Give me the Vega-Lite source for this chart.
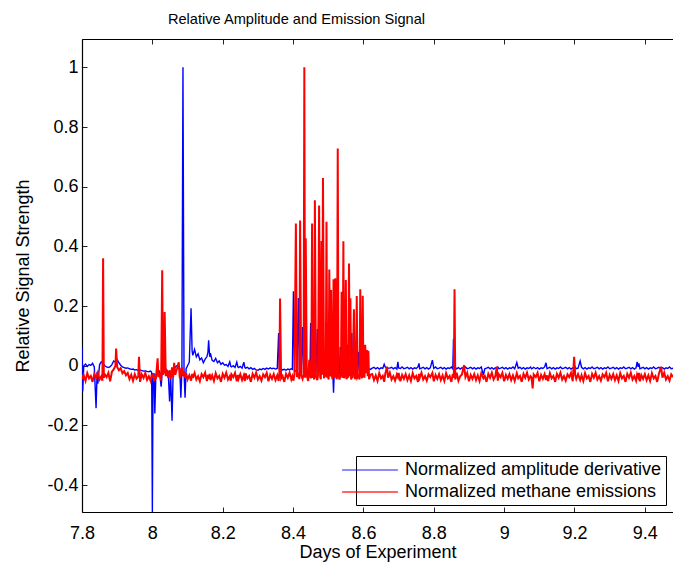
{
"$schema": "https://vega.github.io/schema/vega-lite/v6.json",
"width": 591, "height": 473,
"autosize": {"type": "none"},
"padding": {"left": 82, "top": 39, "right": 0, "bottom": 51},
"background": "white",
"config": {
 "font": "Liberation Sans",
 "view": {"stroke": null},
 "axis": {"grid": false, "domain": true, "ticks": true, "domainColor": "#000000", "domainWidth": 1.2, "domainOpacity": 1, "tickColor": "#222222", "tickWidth": 1, "tickOpacity": 1, "labelColor": "#000", "labelFontSize": 18, "titleFontSize": 18, "titleFontWeight": "normal", "titleColor": "#000", "labelFont": "Liberation Sans", "titleFont": "Liberation Sans", "labelFlush": false, "labelOverlap": false}
},
"title": {"text": "Relative Amplitude and Emission Signal", "anchor": "middle", "frame": "group", "dx": -81, "offset": 12, "fontSize": 14.6, "font": "Liberation Sans", "fontWeight": "normal", "color": "#000"},
"data": {"values": [
{"t":7.800,"a":0.060,"m":-0.030},{"t":7.802,"a":-0.085,"m":-0.045},{"t":7.805,"a":0.000,"m":-0.032},{"t":7.810,"a":0.006,"m":-0.051},{"t":7.815,"a":-0.002,"m":-0.025},{"t":7.820,"a":0.004,"m":-0.042},{"t":7.825,"a":0.001,"m":-0.034},{"t":7.830,"a":0.008,"m":-0.054},{"t":7.835,"a":-0.004,"m":-0.027},{"t":7.840,"a":-0.142,"m":-0.040},{"t":7.843,"a":-0.020,"m":-0.030},{"t":7.845,"a":-0.060,"m":-0.023},{"t":7.850,"a":0.004,"m":-0.046},{"t":7.855,"a":0.013,"m":-0.035},{"t":7.858,"a":0.010,"m":-0.050},{"t":7.860,"a":0.008,"m":0.360},{"t":7.862,"a":0.004,"m":-0.040},{"t":7.865,"a":0.000,"m":-0.029},{"t":7.870,"a":-0.004,"m":-0.038},{"t":7.875,"a":-0.006,"m":-0.024},{"t":7.880,"a":-0.003,"m":-0.052},{"t":7.885,"a":0.004,"m":-0.020},{"t":7.890,"a":0.016,"m":-0.012},{"t":7.895,"a":0.012,"m":0.000},{"t":7.897,"a":0.018,"m":0.058},{"t":7.900,"a":0.021,"m":-0.004},{"t":7.905,"a":0.010,"m":-0.015},{"t":7.910,"a":0.002,"m":-0.008},{"t":7.915,"a":-0.004,"m":-0.025},{"t":7.920,"a":-0.006,"m":-0.018},{"t":7.925,"a":-0.008,"m":-0.032},{"t":7.930,"a":-0.007,"m":-0.024},{"t":7.935,"a":-0.010,"m":-0.045},{"t":7.940,"a":-0.012,"m":-0.030},{"t":7.945,"a":-0.011,"m":-0.050},{"t":7.950,"a":-0.014,"m":-0.028},{"t":7.955,"a":-0.013,"m":-0.043},{"t":7.960,"a":-0.015,"m":-0.036},{"t":7.962,"a":-0.016,"m":0.030},{"t":7.965,"a":-0.014,"m":-0.054},{"t":7.970,"a":-0.016,"m":-0.029},{"t":7.975,"a":-0.018,"m":-0.041},{"t":7.980,"a":-0.017,"m":-0.024},{"t":7.985,"a":-0.019,"m":-0.047},{"t":7.990,"a":-0.020,"m":-0.035},{"t":7.995,"a":-0.018,"m":-0.051},{"t":7.998,"a":-0.022,"m":-0.030},{"t":8.000,"a":-0.490,"m":-0.040},{"t":8.002,"a":-0.030,"m":-0.025},{"t":8.005,"a":-0.028,"m":-0.052},{"t":8.007,"a":-0.160,"m":-0.031},{"t":8.010,"a":-0.030,"m":-0.044},{"t":8.015,"a":-0.022,"m":0.025},{"t":8.017,"a":-0.020,"m":-0.038},{"t":8.020,"a":-0.018,"m":-0.024},{"t":8.025,"a":-0.070,"m":-0.049},{"t":8.028,"a":-0.020,"m":0.320},{"t":8.030,"a":-0.015,"m":-0.030},{"t":8.033,"a":-0.012,"m":-0.020},{"t":8.035,"a":-0.018,"m":0.180},{"t":8.038,"a":-0.010,"m":-0.035},{"t":8.040,"a":-0.014,"m":-0.012},{"t":8.045,"a":-0.020,"m":-0.040},{"t":8.049,"a":-0.120,"m":-0.015},{"t":8.052,"a":-0.030,"m":-0.045},{"t":8.056,"a":-0.184,"m":-0.005},{"t":8.059,"a":-0.025,"m":-0.038},{"t":8.062,"a":-0.012,"m":0.010},{"t":8.065,"a":-0.004,"m":-0.030},{"t":8.070,"a":0.000,"m":-0.010},{"t":8.075,"a":-0.008,"m":0.012},{"t":8.078,"a":-0.010,"m":-0.042},{"t":8.081,"a":-0.107,"m":-0.020},{"t":8.084,"a":-0.015,"m":-0.005},{"t":8.087,"a":1.000,"m":-0.035},{"t":8.090,"a":-0.020,"m":-0.018},{"t":8.093,"a":-0.107,"m":-0.040},{"t":8.096,"a":-0.010,"m":-0.025},{"t":8.100,"a":0.000,"m":-0.046},{"t":8.105,"a":0.012,"m":-0.032},{"t":8.110,"a":0.193,"m":-0.050},{"t":8.113,"a":0.050,"m":-0.027},{"t":8.115,"a":0.035,"m":-0.041},{"t":8.120,"a":0.055,"m":-0.024},{"t":8.125,"a":0.030,"m":-0.046},{"t":8.130,"a":0.040,"m":-0.035},{"t":8.135,"a":0.020,"m":-0.052},{"t":8.140,"a":0.026,"m":-0.028},{"t":8.145,"a":0.010,"m":-0.038},{"t":8.150,"a":0.022,"m":-0.023},{"t":8.155,"a":0.030,"m":-0.051},{"t":8.158,"a":0.045,"m":-0.031},{"t":8.160,"a":0.085,"m":-0.044},{"t":8.163,"a":0.030,"m":-0.027},{"t":8.165,"a":0.042,"m":-0.048},{"t":8.170,"a":0.018,"m":-0.032},{"t":8.175,"a":0.014,"m":-0.051},{"t":8.180,"a":0.025,"m":-0.025},{"t":8.185,"a":0.010,"m":-0.042},{"t":8.190,"a":0.016,"m":-0.034},{"t":8.195,"a":0.005,"m":-0.054},{"t":8.200,"a":0.010,"m":-0.027},{"t":8.205,"a":0.002,"m":-0.040},{"t":8.210,"a":0.004,"m":-0.023},{"t":8.215,"a":-0.002,"m":-0.046},{"t":8.220,"a":0.013,"m":-0.035},{"t":8.223,"a":-0.002,"m":-0.050},{"t":8.225,"a":-0.004,"m":-0.029},{"t":8.230,"a":0.000,"m":-0.038},{"t":8.235,"a":-0.006,"m":-0.024},{"t":8.240,"a":0.012,"m":-0.052},{"t":8.243,"a":-0.004,"m":-0.031},{"t":8.245,"a":-0.006,"m":-0.044},{"t":8.250,"a":-0.002,"m":-0.028},{"t":8.255,"a":-0.008,"m":-0.048},{"t":8.260,"a":0.012,"m":-0.032},{"t":8.263,"a":-0.006,"m":-0.051},{"t":8.265,"a":-0.008,"m":-0.025},{"t":8.270,"a":-0.005,"m":-0.042},{"t":8.275,"a":-0.010,"m":-0.034},{"t":8.280,"a":-0.006,"m":-0.054},{"t":8.285,"a":-0.012,"m":-0.027},{"t":8.290,"a":-0.009,"m":-0.040},{"t":8.295,"a":-0.014,"m":-0.023},{"t":8.300,"a":-0.015,"m":-0.046},{"t":8.305,"a":-0.011,"m":-0.035},{"t":8.310,"a":-0.013,"m":-0.050},{"t":8.315,"a":-0.009,"m":-0.029},{"t":8.320,"a":-0.012,"m":-0.038},{"t":8.325,"a":-0.008,"m":-0.024},{"t":8.330,"a":-0.011,"m":-0.052},{"t":8.335,"a":-0.007,"m":-0.031},{"t":8.340,"a":-0.010,"m":-0.044},{"t":8.345,"a":-0.008,"m":-0.028},{"t":8.350,"a":-0.011,"m":-0.048},{"t":8.355,"a":-0.009,"m":-0.032},{"t":8.359,"a":0.110,"m":-0.051},{"t":8.361,"a":-0.010,"m":-0.025},{"t":8.363,"a":-0.012,"m":0.225},{"t":8.366,"a":-0.011,"m":-0.042},{"t":8.370,"a":-0.014,"m":-0.034},{"t":8.375,"a":-0.012,"m":-0.054},{"t":8.380,"a":-0.015,"m":-0.027},{"t":8.385,"a":-0.011,"m":-0.040},{"t":8.390,"a":-0.013,"m":-0.023},{"t":8.395,"a":-0.010,"m":-0.046},{"t":8.398,"a":-0.012,"m":-0.035},
{"t":8.401,"a":0.250,"m":-0.050},{"t":8.404,"a":-0.015,"m":-0.029},{"t":8.408,"a":-0.018,"m":0.477},{"t":8.411,"a":-0.020,"m":-0.038},{"t":8.415,"a":0.227,"m":-0.024},{"t":8.418,"a":-0.022,"m":-0.045},{"t":8.420,"a":-0.020,"m":0.487},{"t":8.423,"a":-0.025,"m":-0.031},{"t":8.427,"a":0.130,"m":-0.044},{"t":8.430,"a":-0.025,"m":-0.028},{"t":8.432,"a":-0.020,"m":1.000},{"t":8.434,"a":-0.022,"m":-0.040},{"t":8.436,"a":-0.024,"m":0.427},{"t":8.439,"a":-0.020,"m":-0.032},{"t":8.443,"a":-0.018,"m":-0.051},{"t":8.446,"a":-0.022,"m":0.020},{"t":8.448,"a":-0.020,"m":-0.025},{"t":8.450,"a":0.143,"m":-0.042},{"t":8.452,"a":-0.025,"m":-0.034},{"t":8.454,"a":-0.022,"m":0.477},{"t":8.456,"a":-0.020,"m":-0.040},{"t":8.458,"a":0.198,"m":-0.030},{"t":8.460,"a":-0.025,"m":-0.046},{"t":8.462,"a":-0.022,"m":0.555},{"t":8.465,"a":-0.020,"m":-0.035},{"t":8.469,"a":0.123,"m":-0.048},{"t":8.471,"a":-0.022,"m":-0.030},{"t":8.474,"a":-0.018,"m":0.537},{"t":8.477,"a":0.134,"m":-0.038},{"t":8.479,"a":-0.025,"m":-0.045},{"t":8.481,"a":-0.022,"m":0.418},{"t":8.483,"a":-0.020,"m":-0.030},{"t":8.485,"a":-0.022,"m":0.629},{"t":8.488,"a":-0.025,"m":-0.042},{"t":8.491,"a":0.030,"m":-0.028},{"t":8.493,"a":-0.020,"m":-0.036},{"t":8.495,"a":-0.018,"m":0.483},{"t":8.497,"a":-0.022,"m":-0.040},{"t":8.499,"a":0.064,"m":-0.032},{"t":8.501,"a":-0.020,"m":-0.046},{"t":8.503,"a":-0.018,"m":0.323},{"t":8.505,"a":-0.022,"m":-0.036},{"t":8.508,"a":-0.020,"m":0.254},{"t":8.510,"a":-0.025,"m":-0.030},{"t":8.512,"a":0.075,"m":-0.045},{"t":8.513,"a":-0.020,"m":-0.035},{"t":8.515,"a":-0.090,"m":0.290},{"t":8.517,"a":-0.020,"m":-0.040},{"t":8.520,"a":-0.018,"m":0.293},{"t":8.522,"a":-0.022,"m":-0.032},{"t":8.524,"a":0.097,"m":-0.045},{"t":8.525,"a":-0.020,"m":-0.036},{"t":8.527,"a":-0.022,"m":0.728},{"t":8.529,"a":-0.020,"m":-0.030},{"t":8.532,"a":-0.025,"m":-0.046},{"t":8.534,"a":0.063,"m":-0.035},{"t":8.536,"a":-0.022,"m":-0.028},{"t":8.538,"a":-0.020,"m":0.248},{"t":8.540,"a":0.110,"m":-0.040},{"t":8.541,"a":-0.020,"m":-0.035},{"t":8.543,"a":-0.022,"m":0.417},{"t":8.545,"a":-0.020,"m":-0.042},{"t":8.548,"a":-0.018,"m":-0.030},{"t":8.550,"a":-0.020,"m":0.287},{"t":8.552,"a":-0.022,"m":-0.045},{"t":8.555,"a":0.070,"m":-0.032},{"t":8.557,"a":-0.020,"m":-0.040},{"t":8.559,"a":-0.022,"m":0.343},{"t":8.561,"a":-0.020,"m":-0.035},{"t":8.563,"a":-0.018,"m":0.226},{"t":8.565,"a":-0.022,"m":-0.046},{"t":8.567,"a":0.110,"m":-0.030},{"t":8.569,"a":-0.020,"m":-0.042},{"t":8.573,"a":-0.018,"m":0.189},{"t":8.575,"a":-0.020,"m":-0.035},{"t":8.577,"a":0.083,"m":-0.045},{"t":8.579,"a":-0.022,"m":-0.030},{"t":8.581,"a":-0.020,"m":0.234},{"t":8.583,"a":-0.022,"m":-0.040},{"t":8.587,"a":0.047,"m":-0.032},{"t":8.589,"a":-0.018,"m":-0.046},{"t":8.591,"a":-0.020,"m":0.256},{"t":8.593,"a":-0.015,"m":-0.035},{"t":8.594,"a":0.053,"m":-0.030},{"t":8.596,"a":-0.015,"m":-0.042},{"t":8.598,"a":-0.012,"m":0.235},{"t":8.600,"a":-0.014,"m":-0.030},{"t":8.603,"a":-0.012,"m":-0.040},{"t":8.605,"a":-0.012,"m":0.070},{"t":8.607,"a":-0.013,"m":-0.025},{"t":8.610,"a":-0.012,"m":0.053},{"t":8.612,"a":-0.011,"m":-0.035},{"t":8.614,"a":-0.012,"m":0.050},{"t":8.616,"a":-0.010,"m":-0.045},{"t":8.620,"a":-0.012,"m":-0.030},
{"t":8.625,"a":-0.008,"m":-0.028},{"t":8.630,"a":-0.005,"m":-0.048},{"t":8.635,"a":-0.010,"m":-0.032},{"t":8.640,"a":-0.006,"m":-0.051},{"t":8.645,"a":-0.011,"m":-0.025},{"t":8.650,"a":-0.007,"m":-0.042},{"t":8.655,"a":-0.009,"m":-0.034},{"t":8.659,"a":0.005,"m":-0.054},{"t":8.662,"a":-0.004,"m":-0.027},{"t":8.667,"a":-0.010,"m":-0.003},{"t":8.670,"a":-0.008,"m":-0.040},{"t":8.675,"a":-0.008,"m":-0.023},{"t":8.680,"a":-0.005,"m":-0.046},{"t":8.685,"a":-0.010,"m":-0.035},{"t":8.690,"a":-0.006,"m":-0.050},{"t":8.695,"a":-0.011,"m":-0.029},{"t":8.698,"a":0.013,"m":-0.038},{"t":8.700,"a":-0.007,"m":-0.024},{"t":8.705,"a":-0.009,"m":-0.052},{"t":8.710,"a":-0.004,"m":-0.031},{"t":8.715,"a":-0.010,"m":-0.044},{"t":8.720,"a":-0.008,"m":-0.028},{"t":8.725,"a":-0.005,"m":-0.048},{"t":8.730,"a":-0.010,"m":-0.032},{"t":8.735,"a":-0.006,"m":-0.051},{"t":8.740,"a":-0.011,"m":-0.025},{"t":8.745,"a":-0.007,"m":-0.042},{"t":8.750,"a":-0.009,"m":-0.034},{"t":8.755,"a":-0.004,"m":-0.054},{"t":8.758,"a":0.008,"m":-0.027},{"t":8.760,"a":-0.010,"m":-0.040},{"t":8.765,"a":-0.008,"m":-0.023},{"t":8.770,"a":-0.005,"m":-0.046},{"t":8.775,"a":-0.010,"m":-0.035},{"t":8.780,"a":-0.006,"m":-0.050},{"t":8.785,"a":-0.011,"m":-0.029},{"t":8.790,"a":-0.007,"m":-0.038},{"t":8.796,"a":0.019,"m":-0.024},{"t":8.800,"a":-0.009,"m":-0.052},{"t":8.805,"a":-0.004,"m":-0.031},{"t":8.810,"a":-0.010,"m":-0.044},{"t":8.815,"a":-0.008,"m":-0.028},{"t":8.820,"a":-0.005,"m":-0.048},{"t":8.825,"a":-0.010,"m":-0.032},{"t":8.830,"a":-0.006,"m":-0.051},{"t":8.835,"a":-0.011,"m":-0.025},{"t":8.840,"a":-0.007,"m":-0.042},{"t":8.845,"a":-0.009,"m":-0.034},{"t":8.850,"a":-0.004,"m":-0.054},{"t":8.854,"a":-0.010,"m":-0.027},{"t":8.856,"a":0.090,"m":-0.040},{"t":8.857,"a":-0.008,"m":-0.030},{"t":8.859,"a":-0.008,"m":0.256},{"t":8.861,"a":-0.005,"m":-0.046},{"t":8.865,"a":-0.010,"m":-0.023},{"t":8.870,"a":-0.006,"m":-0.050},{"t":8.875,"a":-0.011,"m":-0.035},{"t":8.880,"a":-0.007,"m":-0.029},{"t":8.886,"a":-0.009,"m":0.002},{"t":8.890,"a":-0.004,"m":-0.038},{"t":8.895,"a":-0.010,"m":-0.024},{"t":8.900,"a":-0.008,"m":-0.052},{"t":8.905,"a":-0.005,"m":-0.031},{"t":8.910,"a":-0.010,"m":-0.044},{"t":8.915,"a":-0.006,"m":-0.028},{"t":8.920,"a":-0.011,"m":-0.048},{"t":8.925,"a":-0.007,"m":-0.032},{"t":8.930,"a":-0.009,"m":-0.051},{"t":8.935,"a":-0.004,"m":-0.025},{"t":8.941,"a":-0.031,"m":-0.042},{"t":8.945,"a":-0.010,"m":-0.034},{"t":8.950,"a":-0.008,"m":-0.054},{"t":8.955,"a":-0.005,"m":-0.027},{"t":8.960,"a":-0.010,"m":-0.040},{"t":8.965,"a":-0.006,"m":-0.023},{"t":8.970,"a":-0.011,"m":-0.046},{"t":8.975,"a":-0.007,"m":-0.035},{"t":8.979,"a":-0.009,"m":-0.003},{"t":8.982,"a":-0.004,"m":-0.050},{"t":8.985,"a":-0.010,"m":-0.029},{"t":8.990,"a":-0.008,"m":-0.038},{"t":8.995,"a":-0.005,"m":-0.024},{"t":9.000,"a":-0.010,"m":-0.052},{"t":9.005,"a":-0.006,"m":-0.031},{"t":9.010,"a":-0.011,"m":-0.044},{"t":9.015,"a":-0.007,"m":-0.028},{"t":9.020,"a":-0.009,"m":-0.048},{"t":9.025,"a":-0.004,"m":-0.032},{"t":9.030,"a":-0.010,"m":-0.051},{"t":9.036,"a":0.011,"m":-0.025},{"t":9.040,"a":-0.008,"m":-0.042},{"t":9.045,"a":-0.005,"m":-0.034},{"t":9.050,"a":-0.010,"m":-0.054},{"t":9.055,"a":-0.006,"m":-0.027},{"t":9.060,"a":-0.011,"m":-0.040},{"t":9.065,"a":-0.007,"m":-0.023},{"t":9.070,"a":-0.009,"m":-0.046},{"t":9.075,"a":-0.004,"m":-0.035},{"t":9.078,"a":-0.010,"m":-0.040},{"t":9.081,"a":-0.008,"m":-0.076},{"t":9.084,"a":-0.005,"m":-0.029},{"t":9.090,"a":-0.010,"m":-0.038},{"t":9.095,"a":-0.006,"m":-0.024},{"t":9.100,"a":-0.011,"m":-0.052},{"t":9.105,"a":-0.007,"m":-0.031},{"t":9.110,"a":-0.009,"m":-0.044},{"t":9.115,"a":-0.004,"m":-0.028},{"t":9.119,"a":0.010,"m":-0.048},{"t":9.122,"a":-0.010,"m":-0.032},{"t":9.125,"a":-0.008,"m":-0.051},{"t":9.130,"a":-0.005,"m":-0.025},{"t":9.135,"a":-0.010,"m":-0.042},{"t":9.140,"a":-0.006,"m":-0.034},{"t":9.145,"a":-0.011,"m":-0.054},{"t":9.150,"a":-0.007,"m":-0.027},{"t":9.155,"a":-0.009,"m":-0.040},{"t":9.160,"a":-0.004,"m":-0.023},{"t":9.165,"a":-0.010,"m":-0.046},{"t":9.170,"a":-0.008,"m":-0.035},{"t":9.175,"a":-0.005,"m":-0.050},{"t":9.180,"a":-0.010,"m":-0.029},{"t":9.185,"a":-0.006,"m":-0.038},{"t":9.190,"a":-0.011,"m":-0.024},{"t":9.195,"a":-0.007,"m":-0.052},{"t":9.199,"a":-0.009,"m":0.030},{"t":9.202,"a":-0.004,"m":-0.031},{"t":9.205,"a":-0.010,"m":-0.044},{"t":9.210,"a":-0.008,"m":-0.028},{"t":9.216,"a":0.016,"m":-0.048},{"t":9.220,"a":-0.005,"m":-0.032},{"t":9.225,"a":-0.010,"m":-0.051},{"t":9.230,"a":-0.006,"m":-0.025},{"t":9.235,"a":-0.011,"m":-0.042},{"t":9.240,"a":-0.007,"m":-0.034},{"t":9.245,"a":-0.009,"m":-0.054},{"t":9.250,"a":-0.004,"m":-0.027},{"t":9.255,"a":-0.010,"m":-0.040},{"t":9.260,"a":-0.008,"m":-0.023},{"t":9.265,"a":-0.005,"m":-0.046},{"t":9.270,"a":-0.010,"m":-0.035},{"t":9.275,"a":-0.006,"m":-0.050},{"t":9.280,"a":-0.011,"m":-0.029},{"t":9.285,"a":-0.007,"m":-0.038},{"t":9.290,"a":-0.009,"m":-0.024},{"t":9.295,"a":-0.004,"m":-0.052},{"t":9.300,"a":-0.010,"m":-0.031},{"t":9.305,"a":-0.008,"m":-0.044},{"t":9.310,"a":-0.005,"m":-0.028},{"t":9.315,"a":-0.010,"m":-0.048},{"t":9.320,"a":-0.006,"m":-0.032},{"t":9.325,"a":-0.011,"m":-0.051},{"t":9.330,"a":-0.007,"m":-0.025},{"t":9.335,"a":-0.009,"m":-0.042},{"t":9.340,"a":-0.004,"m":-0.034},{"t":9.345,"a":-0.010,"m":-0.054},{"t":9.350,"a":-0.008,"m":-0.027},{"t":9.355,"a":-0.005,"m":-0.040},{"t":9.360,"a":-0.010,"m":-0.023},{"t":9.365,"a":-0.006,"m":-0.046},{"t":9.370,"a":-0.011,"m":-0.035},{"t":9.375,"a":-0.007,"m":-0.050},{"t":9.378,"a":0.013,"m":-0.029},{"t":9.381,"a":-0.004,"m":-0.038},{"t":9.383,"a":0.008,"m":-0.024},{"t":9.386,"a":-0.010,"m":-0.052},{"t":9.390,"a":-0.008,"m":-0.031},{"t":9.395,"a":-0.005,"m":-0.044},{"t":9.400,"a":-0.010,"m":-0.028},{"t":9.405,"a":-0.006,"m":-0.048},{"t":9.410,"a":-0.011,"m":-0.032},{"t":9.415,"a":-0.007,"m":-0.051},{"t":9.420,"a":-0.009,"m":-0.025},{"t":9.425,"a":-0.004,"m":-0.042},{"t":9.430,"a":-0.010,"m":-0.034},{"t":9.435,"a":-0.008,"m":-0.054},{"t":9.440,"a":-0.005,"m":-0.027},{"t":9.446,"a":-0.010,"m":-0.003},{"t":9.450,"a":-0.006,"m":-0.040},{"t":9.455,"a":-0.011,"m":-0.023},{"t":9.460,"a":-0.007,"m":-0.046},{"t":9.465,"a":-0.009,"m":-0.035},{"t":9.470,"a":-0.004,"m":-0.050},{"t":9.475,"a":-0.010,"m":-0.029},{"t":9.480,"a":-0.008,"m":-0.038}
]},
"transform": [{"fold": ["a", "m"], "as": ["key", "value"]}],
"layer": [
 {
  "mark": {"type": "line", "clip": true},
  "encoding": {
   "x": {"field": "t", "type": "quantitative", "scale": {"domain": [7.8, 9.48], "nice": false, "zero": false},
    "axis": {"orient": "bottom", "domain": true, "ticks": true, "values": [7.8, 8, 8.2, 8.4, 8.6, 8.8, 9, 9.2, 9.4], "labelExpr": "toString(datum.value)", "tickSize": -5, "labelPadding": 17, "title": "Days of Experiment", "titlePadding": 1}},
   "y": {"field": "value", "type": "quantitative", "scale": {"domain": [-0.49, 1.095], "nice": false, "zero": false},
    "axis": {"domain": true, "ticks": true, "values": [-0.4, -0.2, 0, 0.2, 0.4, 0.6, 0.8, 1], "labelExpr": "toString(datum.value)", "tickSize": -5, "labelPadding": 9, "title": "Relative Signal Strength", "titlePadding": 14}},
   "strokeWidth": {"field": "key", "type": "nominal", "scale": {"domain": ["a", "m"], "range": [1.4, 2]}, "legend": null},
   "color": {"field": "key", "type": "nominal", "scale": {"domain": ["a", "m"], "range": ["#0000ff", "#ff0000"]},
    "legend": {"orient": "none", "legendX": 274, "legendY": 417, "title": null, "strokeColor": "#000", "fillColor": "#fff", "padding": 4, "symbolType": "M-3.1,0H3.1", "symbolSize": 324, "symbolStrokeWidth": 1.5, "symbolOpacity": 0.6, "labelFontSize": 18, "labelColor": "#000", "labelOffset": 25, "rowPadding": 3, "labelLimit": 400,
     "labelExpr": "datum.value == 'a' ? 'Normalized amplitude derivative' : 'Normalized methane emissions'"}}
  }
 },
 {
  "mark": {"type": "line", "opacity": 0},
  "encoding": {
   "x": {"field": "t", "type": "quantitative", "axis": {"orient": "top", "domain": true, "ticks": true, "values": [7.8, 8, 8.2, 8.4, 8.6, 8.8, 9, 9.2, 9.4], "labels": false, "tickSize": -5, "title": null}},
   "y": {"field": "value", "type": "quantitative", "axis": null}
  }
 }
],
"resolve": {"axis": {"x": "independent", "y": "independent"}}
}
